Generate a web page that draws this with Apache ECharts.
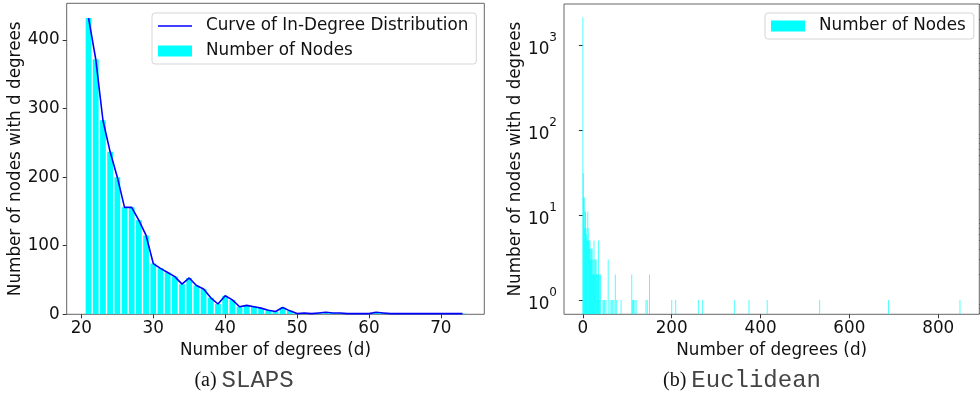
<!DOCTYPE html>
<html>
<head>
<meta charset="utf-8">
<script src="https://cdn.jsdelivr.net/npm/echarts@6/dist/echarts.min.js"></script>
<style>
  html, body { margin: 0; padding: 0; background: #fff; }
  #chart { width: 980px; height: 394px; }
</style>
</head>
<body>
<div id="chart"></div>
<script>
// (a) SLAPS: in-degree histogram
const slapsDegrees = [21, 22, 23, 24, 25, 26, 27, 28, 29, 30, 31, 32, 33, 34, 35, 36, 37, 38, 39, 40,
  41, 42, 43, 44, 45, 46, 47, 48, 49, 50, 51, 52, 53, 54, 55, 56, 57, 58, 59, 60,
  61, 62, 63, 64, 65, 66, 67, 68, 69, 70, 71, 72, 73];
const slapsCounts = [432, 372, 283, 237, 200, 156, 156, 137, 115, 74, 67, 61, 55, 44, 53, 42, 37, 24, 15, 27,
  21, 11, 13, 11, 9, 6, 4, 10, 5, 1, 2, 1, 2, 3, 2, 2, 1, 1, 1, 1,
  3, 2, 1, 1, 1, 1, 1, 1, 1, 1, 1, 1, 1];
const slapsXTicks = [20, 30, 40, 50, 60, 70];
const slapsYTicks = [0, 100, 200, 300, 400];

// (b) Euclidean: in-degree histogram (log scale)
const eucDegrees = [0, 1, 2, 3, 4, 5, 6, 7, 8, 9, 10, 11, 12, 13, 14, 15, 16, 17, 18, 19, 20,
  21, 22, 23, 24, 25, 26, 27, 28, 29, 30, 31, 32, 33, 34, 35, 36, 37, 38, 40,
  45, 47, 49, 52, 57, 61, 64, 67, 70, 73, 76, 86, 110, 112, 114, 117, 120, 142, 145, 150,
  200, 209, 260, 269, 341, 374, 415, 533, 688, 849];
const eucCounts = [2100, 31, 16, 16, 7, 11, 11, 7, 6, 5, 5, 11, 7, 5, 5, 4, 5, 3, 4, 4, 3,
  4, 2, 3, 2, 5, 2, 3, 3, 2, 3, 2, 1, 2, 2, 5, 2, 1, 2, 2,
  1, 1, 1, 1, 3, 1, 1, 1, 1, 2, 1, 1, 2, 1, 1, 1, 1, 1, 1, 2,
  1, 1, 1, 1, 1, 1, 1, 1, 1, 1];
const eucXTicks = [0, 200, 400, 600, 800];
const eucYTicks = [1, 10, 100, 1000];
const eucYMinorTicks = [0.7, 0.8, 0.9, 2, 3, 4, 5, 6, 7, 8, 9, 20, 30, 40, 50, 60, 70, 80, 90,
  200, 300, 400, 500, 600, 700, 800, 900, 2000, 3000];

const FONT = 'DejaVu Sans';
const FS = 16.8;
const TEXT = '#111';
const SPINE = '#666';
const CYAN = '#00ffff';
// thin horizontal stroke used as the legend handle of the curve
const LINE_ICON = 'path://M0,0 L0,0 M0,10 L0,10 M0,4.3 L34,4.3 L34,5.7 L0,5.7 Z';

function barRenderer(fromBottom, minWidth, opacity) {
  return function (params, api) {
    const x = api.value(0), v = api.value(1);
    const p0 = api.coord([x - 0.4, v]);
    const p1 = api.coord([x + 0.4, fromBottom ? v : 0]);
    const cs = params.coordSys;
    const bottom = fromBottom ? cs.y + cs.height : p1[1];
    let w = p1[0] - p0[0];
    let left = p0[0];
    if (w < minWidth) { left -= (minWidth - w) / 2; w = minWidth; }
    return {
      type: 'rect',
      shape: { x: left, y: p0[1], width: w, height: bottom - p0[1] },
      style: { fill: CYAN, opacity: opacity }
    };
  };
}

const axisLabelStyle = { color: TEXT, fontFamily: FONT, fontSize: FS };
const nameStyle = { color: TEXT, fontFamily: FONT, fontSize: FS };
const tickStyle = { show: true, length: 4, lineStyle: { color: '#333', width: 1 } };
const legendText = { color: TEXT, fontFamily: FONT, fontSize: FS, lineHeight: 20, padding: [0, 0, 0, 9] };

const chart = echarts.init(document.getElementById('chart'));
chart.setOption({
  animation: false,
  backgroundColor: '#fff',
  grid: [
    { left: 66.7, top: 3.3, width: 417.6, height: 311, show: true, borderColor: SPINE, borderWidth: 1 },
    { left: 564, top: 4, width: 415.3, height: 310.3, show: true, borderColor: SPINE, borderWidth: 1 }
  ],
  xAxis: [
    {
      gridIndex: 0, type: 'value', min: 17.96, max: 76.04,
      splitLine: { show: false }, axisLine: { show: false },
      axisTick: Object.assign({ customValues: slapsXTicks }, tickStyle),
      axisLabel: Object.assign({ customValues: slapsXTicks, margin: 6 }, axisLabelStyle),
      name: 'Number of degrees (d)', nameLocation: 'middle', nameGap: 25, nameTextStyle: nameStyle
    },
    {
      gridIndex: 1, type: 'value', min: -42.5, max: 892.5,
      splitLine: { show: false }, axisLine: { show: false },
      axisTick: Object.assign({ customValues: eucXTicks }, tickStyle),
      axisLabel: Object.assign({ customValues: eucXTicks, margin: 6 }, axisLabelStyle),
      name: 'Number of degrees (d)', nameLocation: 'middle', nameGap: 25, nameTextStyle: nameStyle
    }
  ],
  yAxis: [
    {
      gridIndex: 0, type: 'value', min: 0, max: 453.6,
      splitLine: { show: false }, axisLine: { show: false },
      axisTick: Object.assign({ customValues: slapsYTicks }, tickStyle),
      axisLabel: Object.assign({ customValues: slapsYTicks, margin: 7 }, axisLabelStyle),
      name: 'Number of nodes with d degrees', nameLocation: 'middle', nameGap: 41, nameTextStyle: nameStyle
    },
    {
      gridIndex: 1, type: 'log', logBase: 10, min: 0.68, max: 3020,
      splitLine: { show: false }, axisLine: { show: false },
      axisTick: Object.assign({ customValues: eucYTicks }, tickStyle),
      axisLabel: Object.assign({
        customValues: eucYTicks, margin: 7,
        formatter: function (v) { return '{b|10}{sup|' + Math.round(Math.log10(v)) + '}'; },
        rich: {
          b: { fontFamily: FONT, fontSize: FS, color: TEXT, lineHeight: 26, verticalAlign: 'bottom' },
          sup: { fontFamily: FONT, fontSize: 12, color: TEXT, lineHeight: 26, verticalAlign: 'top' }
        }
      }, axisLabelStyle),
      name: 'Number of nodes with d degrees', nameLocation: 'middle', nameGap: 40, nameTextStyle: nameStyle
    },
    {
      gridIndex: 1, type: 'log', logBase: 10, min: 0.68, max: 3020,
      splitLine: { show: false }, axisLine: { show: false }, axisLabel: { show: false },
      axisTick: { show: true, length: 2, customValues: eucYMinorTicks, lineStyle: { color: '#333', width: 0.8 } }
    }
  ],
  legend: [
    {
      left: 152, top: 13, orient: 'vertical', itemWidth: 34, itemHeight: 11, itemGap: 5,
      padding: [3, 8, 3, 6], backgroundColor: '#fff', borderColor: '#d5d5d5', borderWidth: 1, borderRadius: 3,
      textStyle: legendText,
      data: [
        { name: 'Curve of In-Degree Distribution', icon: LINE_ICON },
        { name: 'Number of Nodes', icon: 'rect' }
      ]
    },
    {
      left: 765, top: 13, orient: 'vertical', itemWidth: 34, itemHeight: 11,
      padding: [3, 8, 3, 6], backgroundColor: '#fff', borderColor: '#d5d5d5', borderWidth: 1, borderRadius: 3,
      textStyle: legendText,
      data: [{ name: 'Number of Nodes', icon: 'rect' }]
    }
  ],
  series: [
    {
      name: 'Number of Nodes', type: 'custom', xAxisIndex: 0, yAxisIndex: 0, clip: true,
      itemStyle: { color: CYAN },
      renderItem: barRenderer(false, 0, 1),
      data: slapsDegrees.map((d, i) => [d, slapsCounts[i]])
    },
    {
      name: 'Curve of In-Degree Distribution', type: 'line', xAxisIndex: 0, yAxisIndex: 0,
      symbol: 'none', color: '#0000ff', lineStyle: { color: '#0000ff', width: 1.6 },
      data: slapsDegrees.map((d, i) => [d, slapsCounts[i]]), z: 5
    },
    {
      name: 'Number of Nodes', type: 'custom', xAxisIndex: 1, yAxisIndex: 1, clip: true,
      itemStyle: { color: CYAN },
      renderItem: barRenderer(true, 1, 0.7),
      data: eucDegrees.map((d, i) => [d, eucCounts[i]])
    }
  ],
  graphic: [
    {
      type: 'text', x: 244, y: 381,
      style: {
        text: '{a|(a) }{b|SLAPS}', align: 'center', verticalAlign: 'middle',
        rich: {
          a: { fontFamily: 'Liberation Serif', fontSize: 20, fill: TEXT },
          b: { fontFamily: 'Liberation Mono', fontSize: 24, fill: '#444' }
        }
      }
    },
    {
      type: 'text', x: 742, y: 381,
      style: {
        text: '{a|(b) }{b|Euclidean}', align: 'center', verticalAlign: 'middle',
        rich: {
          a: { fontFamily: 'Liberation Serif', fontSize: 20, fill: TEXT },
          b: { fontFamily: 'Liberation Mono', fontSize: 24, fill: '#444' }
        }
      }
    }
  ]
});
</script>
</body>
</html>
